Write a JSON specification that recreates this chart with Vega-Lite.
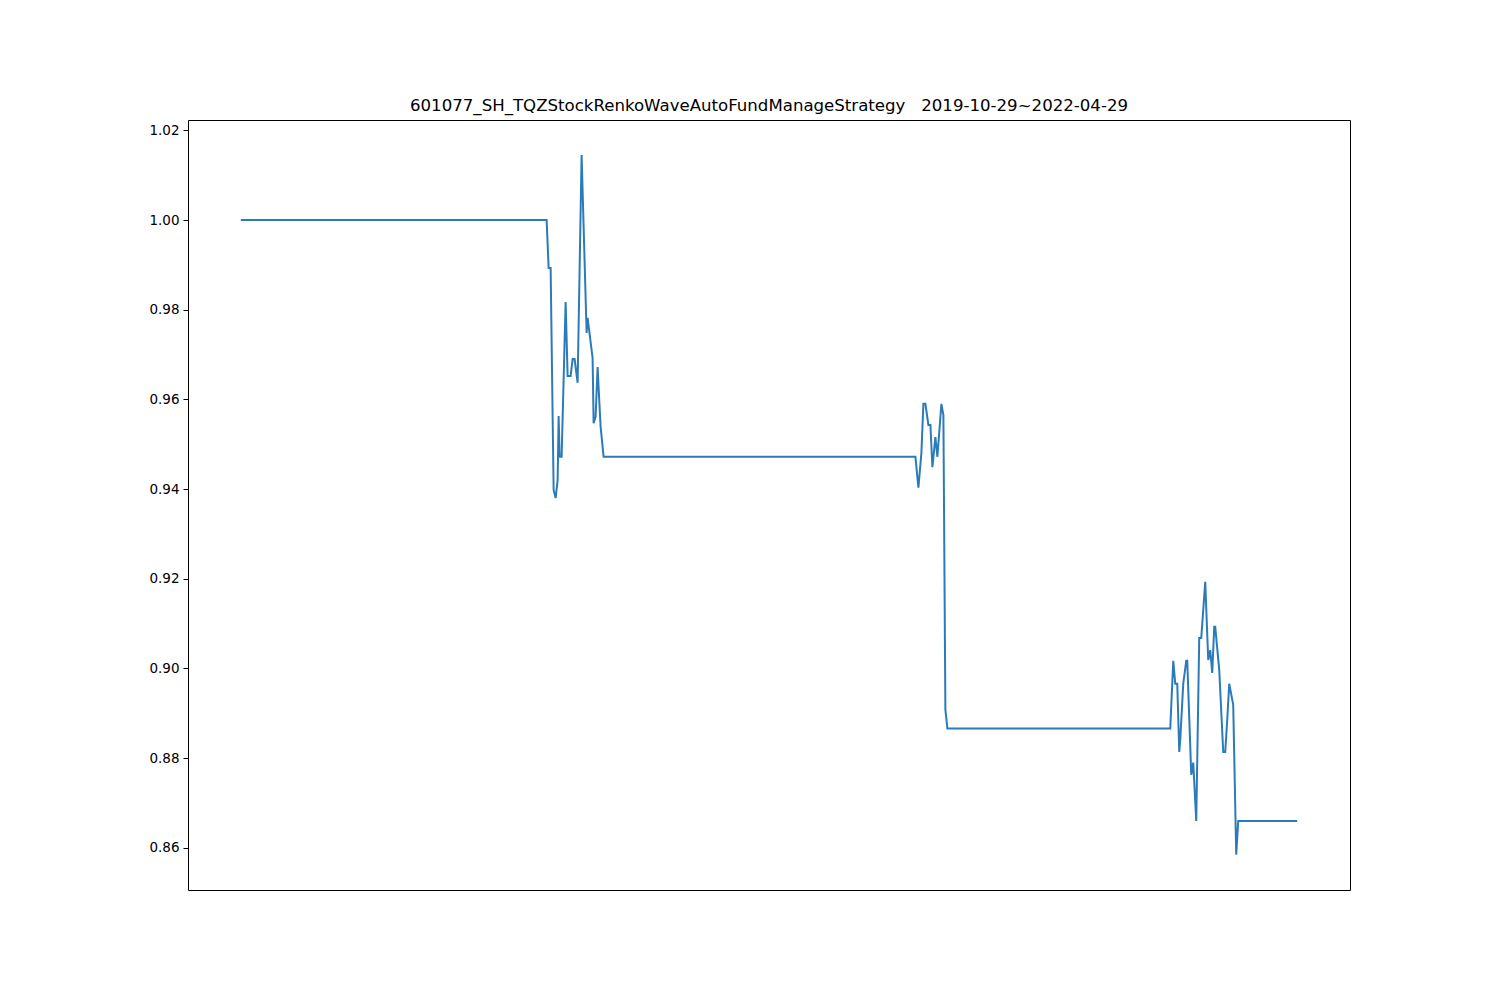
{
  "$schema": "https://vega.github.io/schema/vega-lite/v6.json",
  "autosize": "none",
  "padding": {"left": 188, "top": 120, "right": 150, "bottom": 110},
  "width": 1162,
  "height": 770,
  "background": "white",
  "title": {
    "text": "601077_SH_TQZStockRenkoWaveAutoFundManageStrategy\u00a0\u00a0\u00a02019-10-29~2022-04-29",
    "font": "DejaVu Sans",
    "fontSize": 16.6,
    "fontWeight": "normal",
    "color": "black",
    "offset": 5,
    "anchor": "middle"
  },
  "config": {
    "view": {"stroke": "black", "strokeWidth": 1},
    "axis": {"grid": false, "domain": false}
  },
  "data": {
    "values": [
      {"t": 0, "v": 1.0},
      {"t": 306, "v": 1.0},
      {"t": 308, "v": 0.9893},
      {"t": 310, "v": 0.9893},
      {"t": 313, "v": 0.9398},
      {"t": 315, "v": 0.938},
      {"t": 317, "v": 0.942},
      {"t": 318, "v": 0.9563},
      {"t": 319, "v": 0.9472},
      {"t": 321, "v": 0.9472},
      {"t": 325, "v": 0.9817},
      {"t": 327, "v": 0.9652},
      {"t": 330, "v": 0.9652},
      {"t": 332, "v": 0.969},
      {"t": 334, "v": 0.969},
      {"t": 337, "v": 0.9637},
      {"t": 341, "v": 1.0145},
      {"t": 346, "v": 0.9748},
      {"t": 347, "v": 0.9782},
      {"t": 352, "v": 0.9692},
      {"t": 353, "v": 0.9547},
      {"t": 355, "v": 0.9561},
      {"t": 357, "v": 0.9672},
      {"t": 359, "v": 0.9583},
      {"t": 360, "v": 0.9539},
      {"t": 363, "v": 0.9472},
      {"t": 675, "v": 0.9472},
      {"t": 678, "v": 0.9403},
      {"t": 681, "v": 0.9481},
      {"t": 683, "v": 0.959},
      {"t": 685, "v": 0.959},
      {"t": 688, "v": 0.9543},
      {"t": 690, "v": 0.9543},
      {"t": 692, "v": 0.9449},
      {"t": 695, "v": 0.9516},
      {"t": 697, "v": 0.9472},
      {"t": 701, "v": 0.959},
      {"t": 703, "v": 0.9565},
      {"t": 705, "v": 0.8908},
      {"t": 707, "v": 0.8866},
      {"t": 930, "v": 0.8866},
      {"t": 933, "v": 0.9017},
      {"t": 935, "v": 0.8966},
      {"t": 937, "v": 0.8966},
      {"t": 939, "v": 0.8814},
      {"t": 940, "v": 0.8841},
      {"t": 943, "v": 0.8966},
      {"t": 946, "v": 0.9017},
      {"t": 947, "v": 0.9017},
      {"t": 951, "v": 0.8763},
      {"t": 953, "v": 0.879},
      {"t": 956, "v": 0.866},
      {"t": 959, "v": 0.9068},
      {"t": 961, "v": 0.9068},
      {"t": 965, "v": 0.9193},
      {"t": 968, "v": 0.9019},
      {"t": 970, "v": 0.9041},
      {"t": 972, "v": 0.899},
      {"t": 974, "v": 0.9093},
      {"t": 975, "v": 0.9093},
      {"t": 979, "v": 0.8997},
      {"t": 983, "v": 0.8814},
      {"t": 985, "v": 0.8814},
      {"t": 987, "v": 0.8885},
      {"t": 989, "v": 0.8966},
      {"t": 993, "v": 0.8919},
      {"t": 996, "v": 0.8585},
      {"t": 998, "v": 0.866},
      {"t": 1057, "v": 0.866}
    ]
  },
  "mark": {"type": "line", "color": "#2b7bba", "strokeWidth": 2, "clip": true},
  "encoding": {
    "x": {
      "field": "t",
      "type": "quantitative",
      "scale": {"domain": [-52.85, 1109.85], "nice": false, "zero": false},
      "axis": {"labels": false, "ticks": false, "title": null}
    },
    "y": {
      "field": "v",
      "type": "quantitative",
      "scale": {"domain": [0.8506, 1.0223], "nice": false, "zero": false},
      "axis": {
        "values": [0.86, 0.88, 0.9, 0.92, 0.94, 0.96, 0.98, 1.0, 1.02],
        "format": ".2f",
        "title": null,
        "tickColor": "black",
        "tickSize": 5,
        "tickWidth": 1,
        "labelFont": "DejaVu Sans",
        "labelFontSize": 13.5,
        "labelColor": "black",
        "labelPadding": 4
      }
    }
  }
}
